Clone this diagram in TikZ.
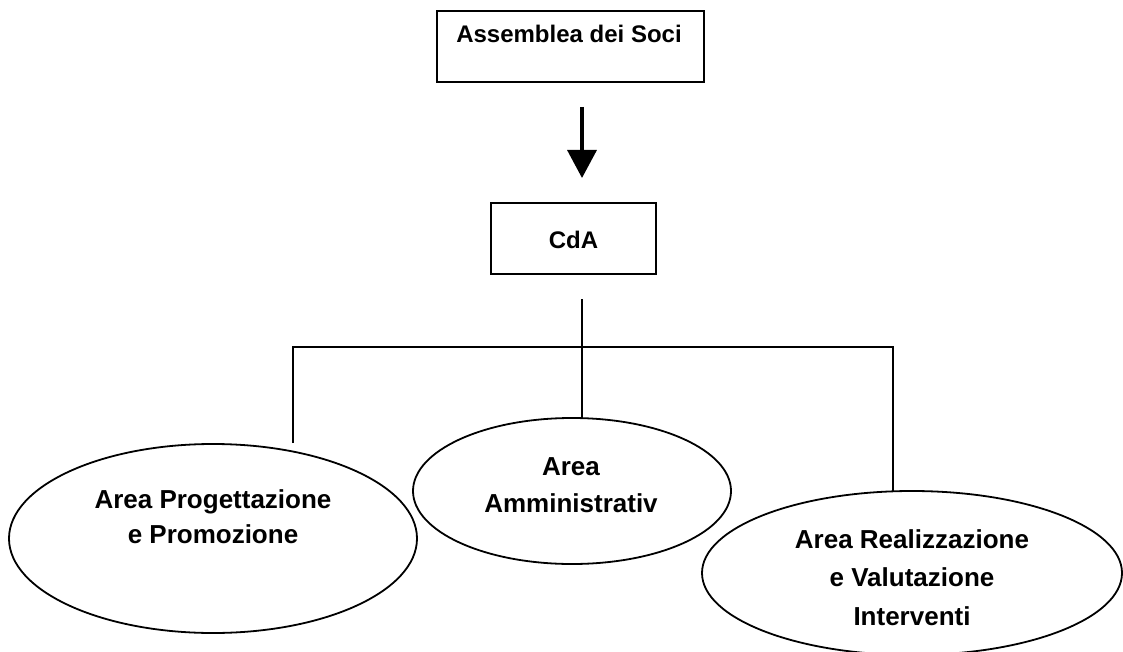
\documentclass[tikz,border=0pt]{standalone}
\usepackage{fontspec}
\setmainfont{Liberation Sans}
\usetikzlibrary{shapes.geometric,arrows.meta}
\tikzset{
  boxnode/.style={draw=black, line width=1.8pt, rectangle, inner sep=0pt},
  ovalnode/.style={draw=black, line width=1.8pt, ellipse, inner sep=0pt},
  boxtext/.style={font=\bfseries\fontsize{24}{30}\selectfont, inner sep=0pt, anchor=base},
  ovaltext/.style={font=\bfseries\fontsize{26}{36}\selectfont, inner sep=0pt, align=center, anchor=north},
  link/.style={draw=black, line width=1.8pt},
  bigarrow/.style={draw=black, line width=3.5pt, -{Triangle[width=29pt,length=28pt]}}
}
\begin{document}
\begin{tikzpicture}[x=1pt,y=-1pt]
\useasboundingbox (0,0) rectangle (1123,652);
\clip (0,0) rectangle (1123,652);
% boxes
\node[boxnode, minimum width=267pt, minimum height=71pt] (soci) at (570.5,46.5) {};
\node[boxtext] (socitext) at (569,43) {Assemblea dei Soci};
\node[boxnode, minimum width=165pt, minimum height=71pt] (cda) at (573.5,238.5) {};
\node[boxtext] (cdatext) at (573.5,248) {CdA};
% ellipses
\node[ovalnode, minimum width=408pt, minimum height=189pt] (prog) at (213,538.5) {};
\node[ovalnode, minimum width=318pt, minimum height=146pt] (amm) at (572,491) {};
\node[ovalnode, minimum width=420pt, minimum height=164pt] (real) at (912,573) {};
\node[ovaltext, font=\bfseries\fontsize{26}{35}\selectfont] (progtext) at (213,489) {Area Progettazione\\e Promozione};
\node[ovaltext, font=\bfseries\fontsize{26}{37}\selectfont] (ammtext) at (571,457) {Area\\Amministrativ};
\node[ovaltext, font=\bfseries\fontsize{26}{38.5}\selectfont] (realtext) at (912,529) {Area Realizzazione\\e Valutazione\\Interventi};
% connector points
\coordinate (arrowtop) at (582,107);
\coordinate (arrowtip) at (582,178);
\coordinate (stemtop) at (582,299);
\coordinate (stemmid) at (582,347);
\coordinate (leftcorner) at (293,347);
\coordinate (leftend) at (293,443);
\coordinate (rightcorner) at (893,347);
\coordinate (rightend) at (893,491);
% connectors
\draw[bigarrow] (arrowtop) -- (arrowtip);
\draw[link] (stemtop) -- (582,418);
\draw[link] (leftend) -- (leftcorner) -- (rightcorner) -- (rightend);
\end{tikzpicture}
\end{document}
